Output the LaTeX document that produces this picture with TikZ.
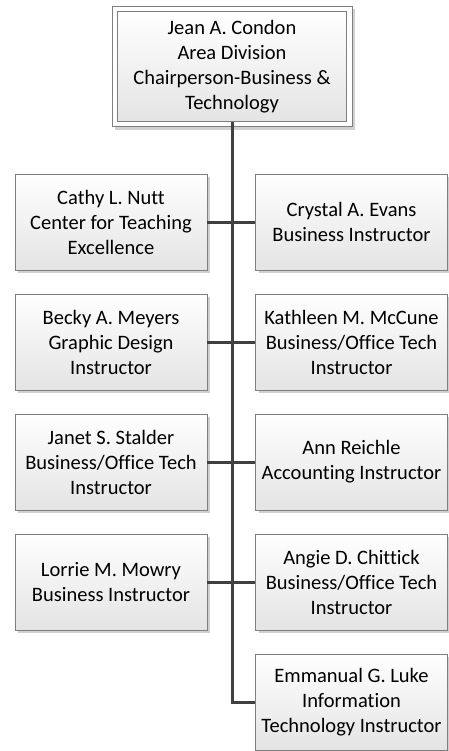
\documentclass[tikz,border=0pt]{standalone}
\usepackage{fontspec}
\setmainfont{Carlito}[Ligatures={NoCommon}]
\usetikzlibrary{shadows,calc}
\definecolor{boxline}{HTML}{7F7F7F}
\definecolor{connline}{HTML}{404040}
\definecolor{boxbot}{HTML}{E4E4E4}
\definecolor{shadowc}{HTML}{D0D0D0}
\tikzset{
  orgbox/.style={draw=boxline, line width=0.8bp, top color=white, bottom color=boxbot,
    minimum width=192bp, minimum height=96bp, inner sep=0pt, align=center,
    font=\fontsize{20.5bp}{25bp}\selectfont,
    drop shadow={shadow xshift=3bp, shadow yshift=-3bp, fill=shadowc, opacity=1}},
  conn/.style={draw=connline, line width=3bp}
}
\begin{document}
\begin{tikzpicture}[x=1bp,y=-1bp]
\useasboundingbox (0,0) rectangle (449,751);
% top box (double border)
\node[draw=boxline, line width=0.8bp, fill=white, minimum width=240bp, minimum height=120bp,
  drop shadow={shadow xshift=3bp, shadow yshift=-3bp, fill=shadowc, opacity=1}] (topouter) at (232,66.5) {};
\node[draw=boxline, line width=0.8bp, top color=white, bottom color=boxbot,
  minimum width=229bp, minimum height=110bp, inner sep=0pt, align=center,
  font=\fontsize{20.5bp}{25bp}\selectfont] (top) at (232,66.5)
  {Jean A. Condon\\Area Division\\Chairperson-Business \&\\Technology};
% left column
\node[orgbox] (l1) at (111,222) {Cathy L. Nutt\\Center for Teaching\\Excellence};
\node[orgbox] (l2) at (111,342) {Becky A. Meyers\\Graphic Design\\Instructor};
\node[orgbox] (l3) at (111,462) {Janet S. Stalder\\Business/Office Tech\\Instructor};
\node[orgbox] (l4) at (111,582) {Lorrie M. Mowry\\Business Instructor};
% right column
\node[orgbox] (r1) at (351.5,222) {Crystal A. Evans\\Business Instructor};
\node[orgbox] (r2) at (351.5,342) {Kathleen M. McCune\\Business/Office Tech\\Instructor};
\node[orgbox] (r3) at (351.5,462) {Ann Reichle\\Accounting Instructor};
\node[orgbox] (r4) at (351.5,582) {Angie D. Chittick\\Business/Office Tech\\Instructor};
\node[orgbox] (r5) at (351.5,702) {Emmanual G. Luke\\Information\\Technology Instructor};
% connectors
\coordinate (corner) at (r5.west -| top.south);
\draw[conn] (top.south) -- (corner) -- (r5.west);
\draw[conn] (l1.east) -- (r1.west);
\draw[conn] (l2.east) -- (r2.west);
\draw[conn] (l3.east) -- (r3.west);
\draw[conn] (l4.east) -- (r4.west);
\end{tikzpicture}
\end{document}
